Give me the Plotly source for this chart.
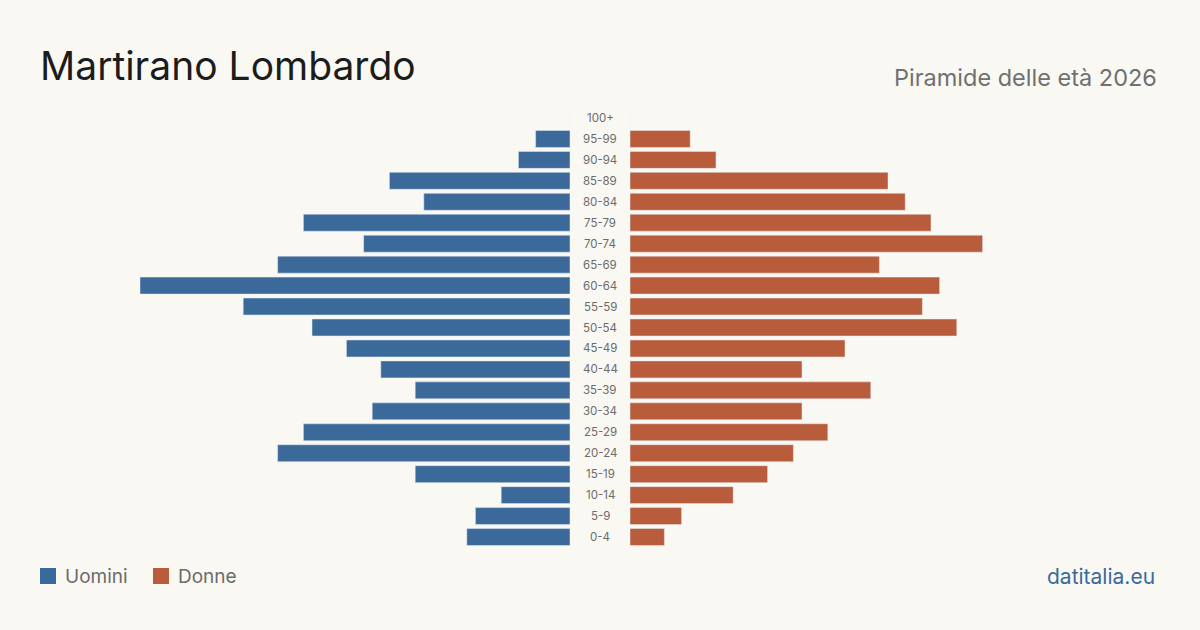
import plotly.graph_objects as go

age_groups = ["100+", "95-99", "90-94", "85-89", "80-84", "75-79", "70-74", "65-69",
              "60-64", "55-59", "50-54", "45-49", "40-44", "35-39", "30-34", "25-29",
              "20-24", "15-19", "10-14", "5-9", "0-4"]
uomini = [0, 4, 6, 21, 17, 31, 24, 34, 50, 38, 30, 26, 22, 18, 23, 31, 34, 18, 8, 11, 12]
donne = [0, 7, 10, 30, 32, 35, 41, 29, 36, 34, 38, 25, 20, 28, 20, 23, 19, 16, 12, 6, 4]

title_text = "Martirano Lombardo"
subtitle_text = "Piramide delle età 2026"
legend_labels = ["Uomini", "Donne"]
source_text = "datitalia.eu"

BLUE = "#3b6a9a"
ORANGE = "#b85c3b"
BG = "#faf8f3"
W, H = 1200, 630

fig = go.Figure()
fig.add_trace(go.Bar(x=uomini, y=age_groups, orientation="h", marker_color=BLUE,
                     xaxis="x", yaxis="y", name=legend_labels[0], hoverinfo="x+y"))
fig.add_trace(go.Bar(x=donne, y=age_groups, orientation="h", marker_color=ORANGE,
                     xaxis="x2", yaxis="y", name=legend_labels[1], hoverinfo="x+y"))

ytop, ybot = 107.5, 547.5
fig.update_layout(
    width=W, height=H, paper_bgcolor=BG, plot_bgcolor=BG,
    margin=dict(l=0, r=0, t=0, b=0), showlegend=False, bargap=0.19,
    font=dict(family="Inter, sans-serif"),
    xaxis=dict(domain=[140 / W, 570 / W], range=[50, 0], visible=False, fixedrange=True),
    xaxis2=dict(domain=[630 / W, 1060 / W], range=[0, 50], visible=False, fixedrange=True),
    yaxis=dict(domain=[1 - ybot / H, 1 - ytop / H], categoryorder="array",
               categoryarray=age_groups[::-1], visible=False, fixedrange=True),
)

for g in age_groups:
    fig.add_annotation(x=600 / W, xref="paper", y=g, yref="y", text=g, showarrow=False,
                       xanchor="center", yanchor="middle",
                       font=dict(size=11.5, color="#6b6b6b", family="Inter, sans-serif"))

fig.add_annotation(x=38 / W, y=1 - 66 / H, xref="paper", yref="paper", text=title_text,
                   showarrow=False, xanchor="left", yanchor="middle",
                   font=dict(size=39, color="#1c1c1c", family="Inter, sans-serif"))
fig.add_annotation(x=1159 / W, y=1 - 77 / H, xref="paper", yref="paper", text=subtitle_text,
                   showarrow=False, xanchor="right", yanchor="middle",
                   font=dict(size=23.5, color="#707070", family="Inter, sans-serif"))

# legend
for lab, col, x0 in [(legend_labels[0], BLUE, 40), (legend_labels[1], ORANGE, 153)]:
    fig.add_shape(type="rect", xref="paper", yref="paper", x0=x0 / W, x1=(x0 + 16) / W,
                  y0=1 - 584 / H, y1=1 - 568 / H, fillcolor=col, line=dict(width=0))
    fig.add_annotation(x=(x0 + 23) / W, y=1 - 576 / H, xref="paper", yref="paper", text=lab,
                       showarrow=False, xanchor="left", yanchor="middle",
                       font=dict(size=19, color="#6b6b6b", family="Inter, sans-serif"))

fig.add_annotation(x=1157 / W, y=1 - 576 / H, xref="paper", yref="paper", text=source_text,
                   showarrow=False, xanchor="right", yanchor="middle",
                   font=dict(size=21, color=BLUE, family="Inter, sans-serif"))

fig.write_html("out.html")
